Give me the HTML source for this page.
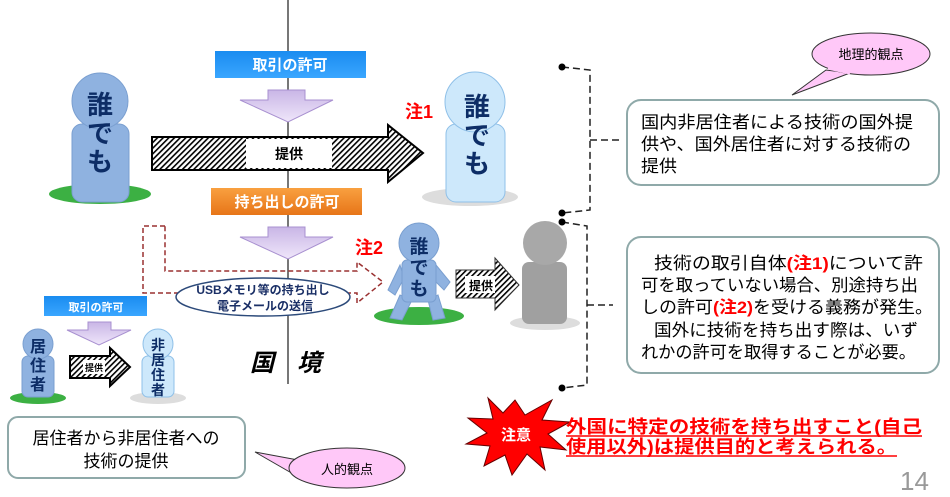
<!DOCTYPE html>
<html><head><meta charset="utf-8"><style>
html,body{margin:0;padding:0;background:#fff;}
svg{display:block;font-family:"Liberation Sans","Noto Sans CJK JP",sans-serif;}
</style></head><body>
<svg width="950" height="497" viewBox="0 0 950 497" xmlns="http://www.w3.org/2000/svg">
<defs>
<pattern id="h" width="4" height="4" patternUnits="userSpaceOnUse" patternTransform="rotate(45)">
<rect width="4" height="4" fill="#fff"/><rect width="1.6" height="4" fill="#000"/></pattern>
<linearGradient id="pu" x1="0" y1="0" x2="0" y2="1"><stop offset="0" stop-color="#c9b6e6"/><stop offset="1" stop-color="#efe6fa"/></linearGradient>
<linearGradient id="bl" x1="0" y1="0" x2="0" y2="1"><stop offset="0" stop-color="#1a8cf0"/><stop offset="1" stop-color="#3aa6ff"/></linearGradient>
<linearGradient id="or" x1="0" y1="0" x2="0" y2="1"><stop offset="0" stop-color="#f9a040"/><stop offset="1" stop-color="#e77518"/></linearGradient>
</defs>
<line x1="288" y1="0" x2="288" y2="384" stroke="#777" stroke-width="2"/>
<rect x="215" y="51" width="151" height="27" fill="url(#bl)"/>
<text x="290" y="70" font-size="15" font-weight="bold" fill="#fff" text-anchor="middle">取引の許可</text>
<path d="M268,90 H305 V100 H333 L288,122 L240,100 H268 Z" fill="url(#pu)" stroke="#a890d0"/>
<path d="M152,137 H388 V125 L423,153 L388,182 V170 H152 Z" fill="url(#h)" stroke="#000" stroke-width="2"/>
<rect x="246" y="139" width="86" height="29" fill="#fff"/>
<text x="289" y="159" font-size="14" font-weight="bold" text-anchor="middle">提供</text>
<rect x="211" y="188" width="151" height="27" fill="url(#or)"/>
<text x="287" y="207" font-size="15" font-weight="bold" fill="#fff" text-anchor="middle">持ち出しの許可</text>
<path d="M268,227 H305 V237 H333 L288,259 L240,237 H268 Z" fill="url(#pu)" stroke="#a890d0"/>
<ellipse cx="100" cy="194" rx="51" ry="10" fill="#3cb043"/>
<rect x="72" y="124" width="57" height="78" rx="10" fill="#8fb2e0" stroke="#7a9fd0"/>
<circle cx="100" cy="101" r="28" fill="#8fb2e0" stroke="#7a9fd0"/>
<text x="100" y="114" font-size="26" font-weight="bold" fill="#0d2d66" text-anchor="middle">誰</text>
<text x="100" y="143" font-size="26" font-weight="bold" fill="#0d2d66" text-anchor="middle">で</text>
<text x="100" y="171" font-size="26" font-weight="bold" fill="#0d2d66" text-anchor="middle">も</text>
<ellipse cx="470" cy="197" rx="48" ry="9" fill="#ddd"/>
<rect x="446" y="124" width="59" height="78" rx="10" fill="#cde8fb" stroke="#8fc0e8"/>
<circle cx="475" cy="102" r="30" fill="#cde8fb" stroke="#8fc0e8"/>
<text x="477" y="116" font-size="26" font-weight="bold" fill="#0d2d66" text-anchor="middle">誰</text>
<text x="477" y="145" font-size="26" font-weight="bold" fill="#0d2d66" text-anchor="middle">で</text>
<text x="477" y="173" font-size="26" font-weight="bold" fill="#0d2d66" text-anchor="middle">も</text>
<text x="405" y="118" font-size="18" font-weight="bold" fill="#f00">注1</text>
<path d="M165,226 H143 V293 H180 M346,293 H357 V303 L383,282 L357,262 V271 H165 V226" fill="none" stroke="#9a3030" stroke-width="1.5" stroke-dasharray="5,3"/>
<ellipse cx="263" cy="297" rx="87" ry="19" fill="#fff" stroke="#2c4a7a" stroke-width="1.5"/>
<text x="263" y="294" font-size="12" font-weight="bold" fill="#1a2f66" text-anchor="middle">USBメモリ等の持ち出し</text>
<text x="265" y="310" font-size="12" font-weight="bold" fill="#1a2f66" text-anchor="middle">電子メールの送信</text>
<text x="355" y="254" font-size="18" font-weight="bold" fill="#f00">注2</text>
<ellipse cx="419" cy="316" rx="45" ry="9" fill="#3cb043"/>
<path d="M400,295 L390,318 L402,320 L412,300 Z M428,300 L433,320 L445,318 L438,295 Z" fill="#8fb2e0" stroke="#7a9fd0"/>
<path d="M400,265 L388,290 L395,295 L404,278 Z M436,265 L450,282 L444,290 L432,278 Z" fill="#8fb2e0" stroke="#7a9fd0"/>
<rect x="402" y="260" width="34" height="42" rx="5" fill="#8fb2e0" stroke="#7a9fd0"/>
<circle cx="419" cy="243" r="20" fill="#8fb2e0" stroke="#7a9fd0"/>
<text x="419" y="253" font-size="19" font-weight="bold" fill="#0d2d66" text-anchor="middle">誰</text>
<text x="419" y="274" font-size="19" font-weight="bold" fill="#0d2d66" text-anchor="middle">で</text>
<text x="419" y="295" font-size="19" font-weight="bold" fill="#0d2d66" text-anchor="middle">も</text>
<path d="M456,270 H495 V258 L519,285 L495,310 V298 H456 Z" fill="url(#h)" stroke="#333"/>
<rect x="465" y="276" width="30" height="17" fill="#fff"/>
<text x="481" y="290" font-size="12" font-weight="bold" text-anchor="middle">提供</text>
<ellipse cx="545" cy="323" rx="35" ry="7" fill="#ddd"/>
<rect x="522" y="262" width="45" height="62" rx="7" fill="#a0a0a0"/>
<circle cx="545" cy="243" r="22" fill="#a8a8a8"/>
<g fill="none" stroke="#222" stroke-width="1.5" stroke-dasharray="7,4">
<path d="M562,67 L590,70 V210 L562,213"/>
<path d="M590,140 H620"/>
<path d="M562,222 L587,226 V385 L562,388"/>
<path d="M587,305 H613"/>
</g>
<circle cx="562" cy="67" r="3.5"/><circle cx="562" cy="213" r="3.5"/>
<circle cx="562" cy="222" r="3.5"/><circle cx="562" cy="388" r="3.5"/>
<rect x="627" y="100" width="312" height="85" rx="14" fill="#fff" stroke="#8fa9a9" stroke-width="2"/>
<g font-size="17" fill="#000">
<text x="641" y="128" textLength="272" lengthAdjust="spacingAndGlyphs">国内非居住者による技術の国外提</text>
<text x="641" y="150" textLength="270" lengthAdjust="spacingAndGlyphs">供や、国外居住者に対する技術の</text>
<text x="641" y="172" textLength="36" lengthAdjust="spacingAndGlyphs">提供</text>
</g>
<path d="M826,70 L792,95 L850,73 Z" fill="#ffc8f8" stroke="#333"/>
<ellipse cx="871" cy="54" rx="59" ry="21" fill="#ffc8f8" stroke="#333"/>
<path d="M828,68 L850,73" stroke="#ffc8f8" stroke-width="3"/>
<text x="871" y="59" font-size="13" text-anchor="middle">地理的観点</text>
<rect x="627" y="237" width="312" height="136" rx="14" fill="#fff" stroke="#8fa9a9" stroke-width="2"/>
<g font-size="17" fill="#000">
<text x="654" y="269" textLength="269" lengthAdjust="spacingAndGlyphs">技術の取引自体<tspan fill="#f00" font-weight="bold">(注1)</tspan>について許</text>
<text x="641" y="291" textLength="277" lengthAdjust="spacingAndGlyphs">可を取っていない場合、別途持ち出</text>
<text x="641" y="313" textLength="292" lengthAdjust="spacingAndGlyphs">しの許可<tspan fill="#f00" font-weight="bold">(注2)</tspan>を受ける義務が発生。</text>
<text x="654" y="336" textLength="264" lengthAdjust="spacingAndGlyphs">国外に技術を持ち出す際は、いず</text>
<text x="641" y="358" textLength="275" lengthAdjust="spacingAndGlyphs">れかの許可を取得することが必要。</text>
</g>
<rect x="44" y="296" width="103" height="20" fill="url(#bl)"/>
<text x="96" y="311" font-size="11" font-weight="bold" fill="#fff" text-anchor="middle">取引の許可</text>
<path d="M88,322 H111 V330 H131 L99,345 L67,330 H88 Z" fill="url(#pu)" stroke="#a890d0"/>
<ellipse cx="38" cy="398" rx="28" ry="6" fill="#3cb043"/>
<rect x="22" y="356" width="32" height="41" rx="6" fill="#8fb2e0" stroke="#7a9fd0"/>
<circle cx="38" cy="344" r="15" fill="#8fb2e0" stroke="#7a9fd0"/>
<g font-size="16" font-weight="bold" fill="#0d2d66" text-anchor="middle">
<text x="38" y="352">居</text><text x="38" y="371">住</text><text x="38" y="390">者</text></g>
<ellipse cx="158" cy="398" rx="28" ry="6" fill="#ddd"/>
<rect x="142" y="356" width="32" height="41" rx="6" fill="#cde8fb" stroke="#8fc0e8"/>
<circle cx="158" cy="344" r="15" fill="#cde8fb" stroke="#8fc0e8"/>
<g font-size="14" font-weight="bold" fill="#0d2d66" text-anchor="middle">
<text x="158" y="350">非</text><text x="158" y="365">居</text><text x="158" y="380">住</text><text x="158" y="395">者</text></g>
<path d="M70,356 H110 V348 L130,367 L110,386 V378 H70 Z" fill="url(#h)" stroke="#000" stroke-width="2"/>
<rect x="83" y="360" width="22" height="14" fill="#fff"/>
<text x="94" y="371" font-size="9" font-weight="bold" text-anchor="middle">提供</text>
<text x="250" y="371" font-size="24" font-weight="bold" font-style="italic">国</text>
<text x="297" y="371" font-size="24" font-weight="bold" font-style="italic">境</text>
<rect x="8" y="417" width="237" height="61" rx="10" fill="#fff" stroke="#8fa9a9" stroke-width="2"/>
<text x="126" y="444" font-size="17" text-anchor="middle">居住者から非居住者への</text>
<text x="126" y="467" font-size="17" text-anchor="middle">技術の提供</text>
<path d="M298,460 L255,452 L295,475 Z" fill="#ffc8f8" stroke="#333"/>
<ellipse cx="347" cy="468" rx="58" ry="20" fill="#ffc8f8" stroke="#333"/>
<path d="M298,461 L297,473" stroke="#ffc8f8" stroke-width="3"/>
<text x="347" y="474" font-size="13" text-anchor="middle">人的観点</text>
<polygon points="515,400 525,415 552,400 542,420 570,422 548,434 566,450 540,447 545,470 527,454 512,475 505,455 484,466 490,446 466,444 487,433 468,418 493,419 488,398 503,413" fill="#f00" stroke="#600"/>
<text x="516" y="440" font-size="15" font-weight="bold" fill="#fff" text-anchor="middle">注意</text>
<g font-size="18" font-weight="bold" fill="#f00">
<text x="566" y="433" textLength="356" lengthAdjust="spacingAndGlyphs">外国に特定の技術を持ち出すこと(自己</text>
<text x="566" y="453" textLength="331" lengthAdjust="spacingAndGlyphs">使用以外)は提供目的と考えられる。</text>
</g>
<line x1="566" y1="436" x2="922" y2="436" stroke="#f00" stroke-width="1.5"/>
<line x1="566" y1="456" x2="897" y2="456" stroke="#f00" stroke-width="1.5"/>
<text x="900" y="490" font-size="26" fill="#999">14</text>
</svg>
</body></html>
